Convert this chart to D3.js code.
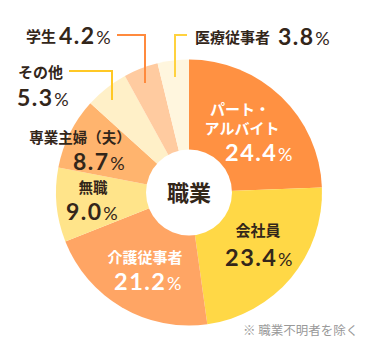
<!DOCTYPE html>
<html><head><meta charset="utf-8">
<script src="https://cdn.jsdelivr.net/npm/d3@7"></script>
<style>body{margin:0;background:#fff}svg{display:block}</style>
</head><body>
<svg id="c" width="380" height="355"></svg>
<script>
const categories = ["パート・アルバイト","会社員","介護従事者","無職","専業主婦（夫）","その他","学生","医療従事者"];
const values = [24.4,23.4,21.2,9.0,8.7,5.3,4.2,3.8];
const colors = ["#FF9142","#FFD846","#FFA564","#FFE48A","#FFB46E","#FFF0C8","#FFCBA0","#FFF6DE"];
const centerTitle = "職業";
const footnote = "※ 職業不明者を除く";

const svg = d3.select("#c");
const cx = 189, cy = 192.5, R = 133, r0 = 43;
const g = svg.append("g").attr("transform", `translate(${cx},${cy})`);
const pie = d3.pie().sort(null).value(d => d)(values);
const arc = d3.arc().innerRadius(0).outerRadius(R);
g.selectAll("path").data(pie).join("path").attr("d", arc).attr("fill", (d,i) => colors[i]);
g.append("circle").attr("r", r0).attr("fill", "#fff");

const dark = "#33261A";
const fontJ = "'Noto Sans CJK JP', sans-serif";
const fontN = "Lato, 'Noto Sans', sans-serif";

// leader lines
const lines = [
  {pts:[[117,35],[145,35],[145,83]], color:"#FF8A3D"},
  {pts:[[187,35],[175,35],[175,77]], color:"#FFD23F"},
  {pts:[[69,71],[112,71],[112,100]], color:"#FFC825"}
];
lines.forEach(l => svg.append("path").attr("d", d3.line()(l.pts)).attr("fill","none").attr("stroke", l.color).attr("stroke-width", 2));

function label(x, y, txt, fill, size, anchor) {
  svg.append("text").attr("x", x).attr("y", y).attr("text-anchor", anchor || "start")
    .attr("font-family", fontJ).attr("font-weight", 700).attr("font-size", size || 15)
    .attr("fill", fill).text(txt);
}
function num(x, y, v, fill, size) {
  const t = svg.append("text").attr("x", x).attr("y", y)
    .attr("font-family", fontN).attr("fill", fill);
  t.append("tspan").attr("font-weight", 700).attr("font-size", size || 23)
    .attr("letter-spacing", 1.5).text(d3.format(".1f")(v));
  t.append("tspan").attr("font-weight", 400).attr("font-size", 18).attr("dx", 0.5).text("%");
}

// 学生
label(26, 42, categories[6], dark, 15);
num(59, 44, values[6], dark, 23);
// 医療従事者
label(195, 43, categories[7], dark, 15);
num(278, 45, values[7], dark, 23);
// その他
label(18, 78, categories[5], dark, 15);
num(17, 106, values[5], dark, 23);
// 専業主婦（夫）
label(80, 143, categories[4], dark, 14.5, "middle");
num(73, 170, values[4], dark, 23);
// 無職
label(93, 193, categories[3], dark, 14.5, "middle");
num(66, 220, values[3], dark, 23);
// パート・アルバイト
label(240, 115, "パート・", "#fff", 15, "middle");
label(242, 134, "アルバイト", "#fff", 15, "middle");
num(225, 161, values[0], "#fff", 23.5);
// 会社員
label(258, 236, categories[1], dark, 15, "middle");
num(225, 266, values[1], dark, 23.5);
// 介護従事者
label(145, 263, categories[2], "#fff", 15, "middle");
num(114, 290, values[2], "#fff", 23.5);

// center
svg.append("text").attr("x", cx).attr("y", cy + 8).attr("text-anchor","middle")
  .attr("font-family", fontJ).attr("font-weight", 700).attr("font-size", 22).attr("fill", dark).text(centerTitle);

svg.append("text").attr("x", 243).attr("y", 335).attr("font-family", fontJ).attr("font-size", 12.5)
  .attr("fill", "#999").text(footnote);
</script>
</body></html>
